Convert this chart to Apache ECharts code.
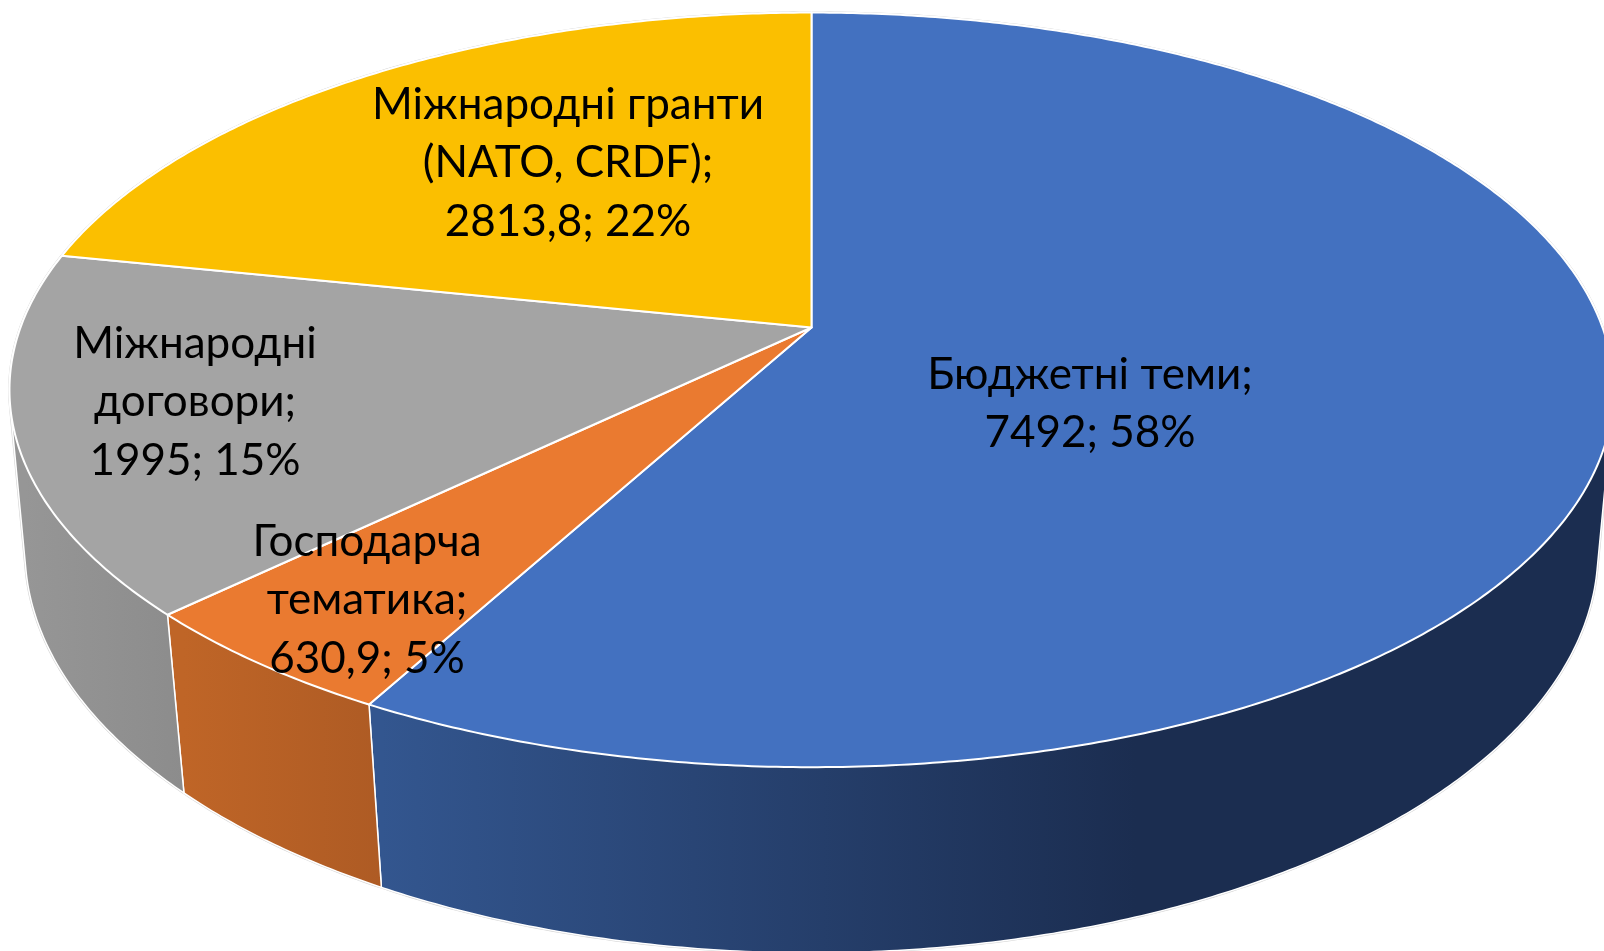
<!DOCTYPE html>
<html>
<head>
<meta charset="utf-8">
<title>Pie</title>
<script src="https://cdn.jsdelivr.net/npm/echarts@6/dist/echarts.min.js"></script>
<style>
  html, body { margin: 0; padding: 0; background: #fff; }
  #main { width: 1604px; height: 951px; }
</style>
</head>
<body>
<div id="main"></div>
<script>
// data
var categories = ['Бюджетні теми', 'Господарча\nтематика', 'Міжнародні\nдоговори', 'Міжнародні гранти\n(NATO, CRDF)'];
var values = [7492, 630.9, 1995, 2813.8];

// colours of the top faces, and left/right colours of the side walls
var topColors = ['#4371c0', '#ea7a30', '#a4a4a4', '#fbbf00'];
var sideLeft = ['#33568f', '#bf6527', '#969696', '#8a8a8a'];
var sideRight = ['#1b2d50', '#ae5b24', '#8c8c8c', '#8a8a8a'];

// label centres in pixels
var labelX = [1090, 367, 195, 568];
var labelY = [404, 600, 402, 163];

// tilted disc: each rim has its own perspective
var topRim = { cx: 811.5, cy: 327.5, rx: 791, ry: 367, persp: 0.1653 };
var bottomRim = { cx: 811.5, cy: 488, rx: 777, ry: 392.8, persp: 0.155 };

var total = values.reduce(function (a, b) { return a + b; }, 0);

function sliceAngles(index) {
  var start = 0;
  for (var i = 0; i < index; i++) start += values[i];
  return [start / total * 360, (start + values[index]) / total * 360];
}

function project(rim, deg) {
  var t = deg * Math.PI / 180;
  var den = 1 + rim.persp * Math.cos(t);
  return [rim.cx + rim.rx * Math.sin(t) / den, rim.cy - rim.ry * Math.cos(t) / den];
}

function arc(rim, from, to) {
  var pts = [];
  var n = Math.ceil((to - from) / 0.5);
  for (var i = 0; i <= n; i++) pts.push(project(rim, from + (to - from) * i / n));
  return pts;
}

// the wall's outline is the hull of both rims, the top face hides the rest of it
function hull(pts) {
  pts = pts.slice().sort(function (a, b) { return a[0] - b[0] || a[1] - b[1]; });
  function cross(o, a, b) {
    return (a[0] - o[0]) * (b[1] - o[1]) - (a[1] - o[1]) * (b[0] - o[0]);
  }
  function half(list) {
    var out = [];
    list.forEach(function (p) {
      while (out.length > 1 && cross(out[out.length - 2], out[out.length - 1], p) <= 0) out.pop();
      out.push(p);
    });
    out.pop();
    return out;
  }
  return half(pts).concat(half(pts.slice().reverse()));
}

function wallOutline(from, to) {
  return hull(arc(topRim, from, to).concat(arc(bottomRim, from, to)));
}

// faint grey hairline round the whole solid
function renderEdge(params, api) {
  if (params.dataIndex !== 0) return null;
  return {
    type: 'polygon',
    shape: { points: wallOutline(0, 360) },
    style: { fill: '#fff', stroke: '#d4d4d4', lineWidth: 2.6 }
  };
}

function renderSide(params, api) {
  var i = params.dataIndex;
  var a = sliceAngles(i);
  var xs = arc(bottomRim, a[0], a[1]).map(function (p) { return p[0]; });
  var x0 = Math.min.apply(null, xs);
  var x1 = Math.max.apply(null, xs);
  // blue wall reaches its dark colour well before the right end
  if (i === 0) x1 = x0 + (x1 - x0) * 0.62;
  return {
    type: 'polygon',
    shape: { points: wallOutline(a[0], a[1]) },
    style: {
      fill: new echarts.graphic.LinearGradient(x0, 0, x1, 0, [
        { offset: 0, color: sideLeft[i] },
        { offset: 1, color: sideRight[i] }
      ], true),
      stroke: '#fff',
      lineWidth: 1.5
    }
  };
}

function renderTop(params, api) {
  var i = params.dataIndex;
  var a = sliceAngles(i);
  var pts = [[topRim.cx, topRim.cy]].concat(arc(topRim, a[0], a[1]));
  return {
    type: 'polygon',
    shape: { points: pts },
    style: { fill: topColors[i], stroke: '#fff', lineWidth: 2, lineJoin: 'round' }
  };
}

function renderLabel(params, api) {
  var i = params.dataIndex;
  var value = api.value(0);
  var pct = Math.round(value / total * 100);
  return {
    type: 'text',
    x: labelX[i],
    y: labelY[i],
    style: {
      text: categories[i] + ';\n' + String(value).replace('.', ',') + '; ' + pct + '%',
      fill: '#000',
      font: '44px Lato, Carlito, "Open Sans", sans-serif',
      lineHeight: 58.5,
      align: 'center',
      verticalAlign: 'middle'
    }
  };
}

var seriesData = values.map(function (v) { return [v]; });

var chart = echarts.init(document.getElementById('main'));
chart.setOption({
  animation: false,
  backgroundColor: '#fff',
  series: [
    { type: 'custom', coordinateSystem: 'none', renderItem: renderEdge, data: seriesData, silent: true, z: 1 },
    { type: 'custom', coordinateSystem: 'none', renderItem: renderSide, data: seriesData, silent: true, z: 2 },
    { type: 'custom', coordinateSystem: 'none', renderItem: renderTop, data: seriesData, silent: true, z: 3 },
    { type: 'custom', coordinateSystem: 'none', renderItem: renderLabel, data: seriesData, silent: true, z: 4 }
  ]
});
</script>
</body>
</html>
